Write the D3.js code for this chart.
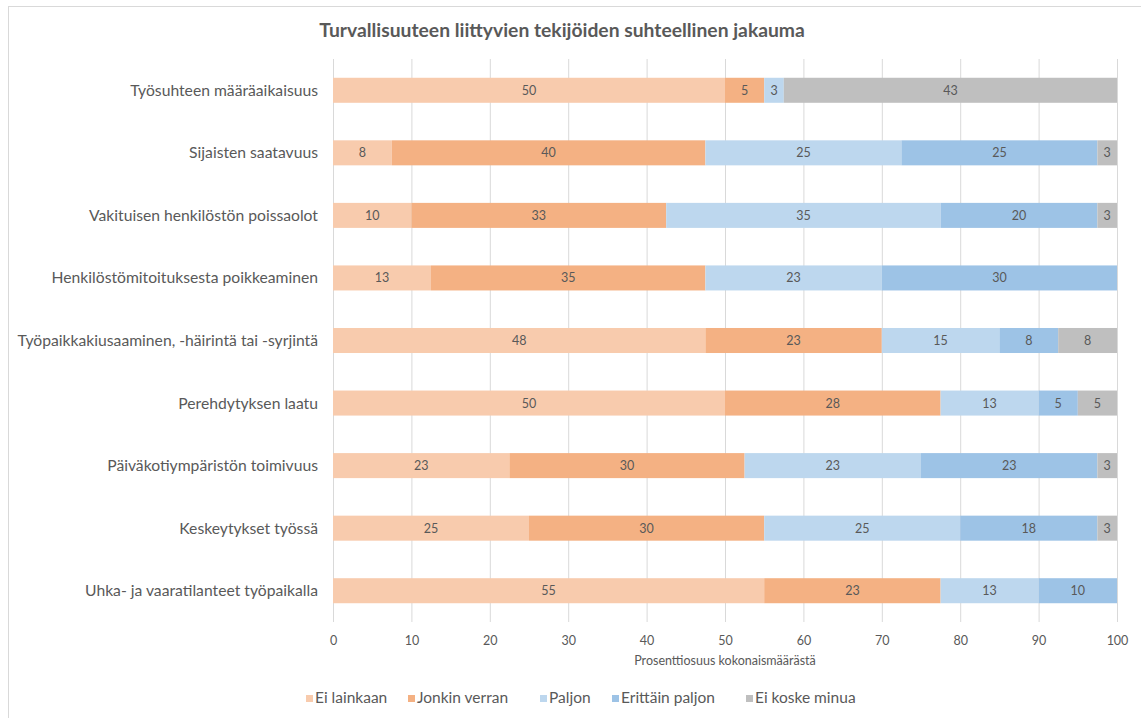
<!DOCTYPE html>
<meta charset="utf-8">
<style>
body { margin: 0; background: #fff; }
text { font-family: Lato, "Open Sans", sans-serif; }
</style>
<svg width="1141" height="718"></svg>
<script src="https://cdn.jsdelivr.net/npm/d3@7"></script>
<script>
var width = 1141, height = 718;

var categories = [
  "Työsuhteen määräaikaisuus",
  "Sijaisten saatavuus",
  "Vakituisen henkilöstön poissaolot",
  "Henkilöstömitoituksesta poikkeaminen",
  "Työpaikkakiusaaminen, -häirintä tai -syrjintä",
  "Perehdytyksen laatu",
  "Päiväkotiympäristön toimivuus",
  "Keskeytykset työssä",
  "Uhka- ja vaaratilanteet työpaikalla"
];
var seriesNames = ["Ei lainkaan", "Jonkin verran", "Paljon", "Erittäin paljon", "Ei koske minua"];
var eiLainkaan    = [50, 7.5, 10, 12.5, 47.5, 50, 22.5, 25, 55];
var jonkinVerran  = [5, 40, 32.5, 35, 22.5, 27.5, 30, 30, 22.5];
var paljon        = [2.5, 25, 35, 22.5, 15, 12.5, 22.5, 25, 12.5];
var erittainPaljon= [0, 25, 20, 30, 7.5, 5, 22.5, 17.5, 10];
var eiKoske       = [42.5, 2.5, 2.5, 0, 7.5, 5, 2.5, 2.5, 0];
var xTicks = [0, 10, 20, 30, 40, 50, 60, 70, 80, 90, 100];
var colors = ["#F8CBAD", "#F4B183", "#BDD7EE", "#9DC3E6", "#BFBFBF"];

var values = [eiLainkaan, jonkinVerran, paljon, erittainPaljon, eiKoske];
var rows = categories.map(function(c, i) {
  var r = { cat: c };
  seriesNames.forEach(function(s, j) { r[s] = values[j][i]; });
  return r;
});

var svg = d3.select("svg");

// chart border
svg.append("rect")
  .attr("x", 8.5).attr("y", 6.5)
  .attr("width", 1140).attr("height", 720)
  .attr("fill", "none").attr("stroke", "#d9d9d9");

var x = d3.scaleLinear().domain([0, 100]).range([333, 1117]);
var y = d3.scaleBand().domain(categories).range([59, 622]).paddingInner(0.6).paddingOuter(0.3);

// title
svg.append("text")
  .attr("x", 562).attr("y", 37)
  .attr("text-anchor", "middle")
  .attr("font-size", 19.3).attr("font-weight", "bold")
  .attr("fill", "#595959")
  .text("Turvallisuuteen liittyvien tekijöiden suhteellinen jakauma");

// grid
svg.append("g").selectAll("line")
  .data(xTicks).enter().append("line")
  .attr("x1", function(d) { return x(d) + 0.5; })
  .attr("x2", function(d) { return x(d) + 0.5; })
  .attr("y1", 59).attr("y2", 622)
  .attr("stroke", "#d9d9d9");

var stack = d3.stack().keys(seriesNames)(rows);

var layer = svg.append("g").selectAll("g")
  .data(stack).enter().append("g")
  .attr("fill", function(d, i) { return colors[i]; });

layer.selectAll("rect")
  .data(function(d) { return d.filter(function(p) { return p[1] - p[0] > 0; }); })
  .enter().append("rect")
  .attr("x", function(d) { return x(d[0]); })
  .attr("width", function(d) { return x(d[1]) - x(d[0]); })
  .attr("y", function(d) { return y(d.data.cat); })
  .attr("height", y.bandwidth());

layer.selectAll("text")
  .data(function(d) { return d.filter(function(p) { return p[1] - p[0] > 0; }); })
  .enter().append("text")
  .attr("x", function(d) { return (x(d[0]) + x(d[1])) / 2; })
  .attr("y", function(d) { return y(d.data.cat) + y.bandwidth() / 2 + 4.5; })
  .attr("text-anchor", "middle")
  .attr("font-size", 12.5)
  .attr("fill", "#595959")
  .text(function(d) { return Math.round(d[1] - d[0]); });

// category labels
svg.append("g").selectAll("text")
  .data(categories).enter().append("text")
  .attr("x", 318)
  .attr("y", function(d) { return y(d) + y.bandwidth() / 2 + 5.5; })
  .attr("text-anchor", "end")
  .attr("font-size", 15.7)
  .attr("fill", "#595959")
  .text(function(d) { return d; });

// x axis
var xAxis = svg.append("g")
  .attr("transform", "translate(0,622)")
  .call(d3.axisBottom(x).tickValues(xTicks).tickSize(0).tickPadding(14));
xAxis.select(".domain").remove();
xAxis.selectAll("text")
  .attr("font-size", 12.5).attr("fill", "#595959")
  .style("font-family", "Lato, sans-serif");

svg.append("text")
  .attr("x", x(50)).attr("y", 665)
  .attr("text-anchor", "middle")
  .attr("font-size", 12.5)
  .attr("fill", "#595959")
  .text("Prosenttiosuus kokonaismäärästä");

// legend
var legendX = [306, 408, 540, 612, 746];
var legend = svg.append("g").selectAll("g")
  .data(seriesNames).enter().append("g")
  .attr("transform", function(d, i) { return "translate(" + legendX[i] + ",703)"; });
legend.append("rect")
  .attr("x", 0).attr("y", -8)
  .attr("width", 7).attr("height", 7)
  .attr("fill", function(d, i) { return colors[i]; });
legend.append("text")
  .attr("x", 9).attr("y", 0)
  .attr("font-size", 15.5)
  .attr("fill", "#595959")
  .text(function(d) { return d; });
</script>
